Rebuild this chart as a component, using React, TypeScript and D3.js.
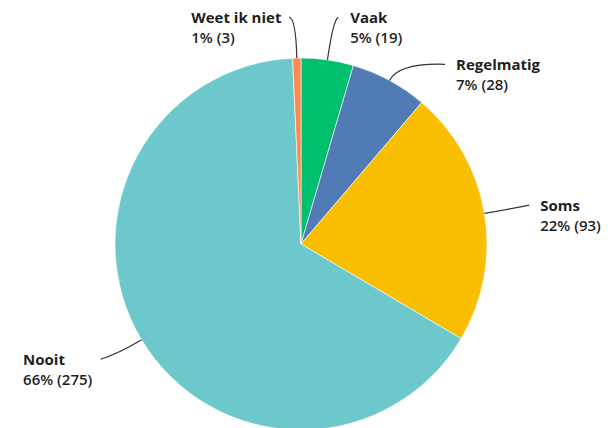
import React, { useEffect, useRef } from 'react'
import * as d3 from 'd3'

// answers, clockwise from 12 o'clock
const categories = ['Vaak', 'Regelmatig', 'Soms', 'Nooit', 'Weet ik niet']
const counts = [19, 28, 93, 275, 3]
const colors = ['#00BF6F', '#507BB5', '#F9BE00', '#6DC8CC', '#F98B51']

// label layout: radial extension of the elbow, end offset, text gap
const labelExt = [40, 20, 22, 28, 40]
const labelDx = [5, 46, 23, -17, -7]
const labelDy = [-3, 1.5, -4.7, 5, -1]
const labelGap = [12, 11, 11, 8, 7]

const width = 612
const height = 428
const cx = 301
const cy = 244
const radius = 186

const App = () => {
    const ref = useRef<SVGSVGElement>(null)
    const total = d3.sum(counts)
    const data = categories.map((c, i) => ({ name: c, value: counts[i], i }))
    const pie = d3.pie<any>().sort(null).value((d: any) => d.value)
    const arcs = pie(data)
    const arc = d3.arc<any>().innerRadius(0).outerRadius(radius)

    const pt = (a: number, r: number) => [Math.sin(a) * r, -Math.cos(a) * r]

    // left side labels are left aligned, so shift them by their own width
    useEffect(() => {
        d3.select(ref.current).selectAll('text.left').each(function () {
            const t = this as SVGTextElement
            const right = +t.getAttribute('data-right')!
            const w = t.getBBox().width
            d3.select(t).selectAll('tspan').attr('x', right - w)
        })
    }, [])

    return (
        <svg ref={ref} width={width} height={height} style={{ position: 'absolute', left: 0, top: 0, background: '#fff' }}
            fontFamily="'Open Sans', sans-serif">
            <g transform={`translate(${cx},${cy})`}>
                {arcs.map((a, i) => (
                    <path key={i} d={arc(a) as string} fill={colors[i]} stroke="#fff" strokeWidth={0.6} />
                ))}
                {arcs.map((a, i) => {
                    const mid = (a.startAngle + a.endAngle) / 2
                    const s = pt(mid, radius)
                    const e = pt(mid, radius + labelExt[i])
                    const end = [e[0] + labelDx[i], e[1] + labelDy[i]]
                    const left = labelDx[i] < 0
                    const tx = end[0] + (left ? -labelGap[i] : labelGap[i])
                    const pct = Math.round(counts[i] / total * 100)
                    return (
                        <g key={'l' + i}>
                            <path d={`M${s[0]},${s[1]}Q${e[0]},${e[1]} ${end[0]},${end[1]}`}
                                fill="none" stroke="#333" strokeWidth={1.2} />
                            <text className={left ? 'left' : 'right'} data-right={tx} x={tx} y={end[1] + 6}
                                fontSize={15} fill="#1f1f1f">
                                <tspan x={tx} fontWeight={700}>{categories[i]}</tspan>
                                <tspan x={tx} dy={20} fontWeight={600}>{`${pct}% (${counts[i]})`}</tspan>
                            </text>
                        </g>
                    )
                })}
            </g>
        </svg>
    )
}

export default App
